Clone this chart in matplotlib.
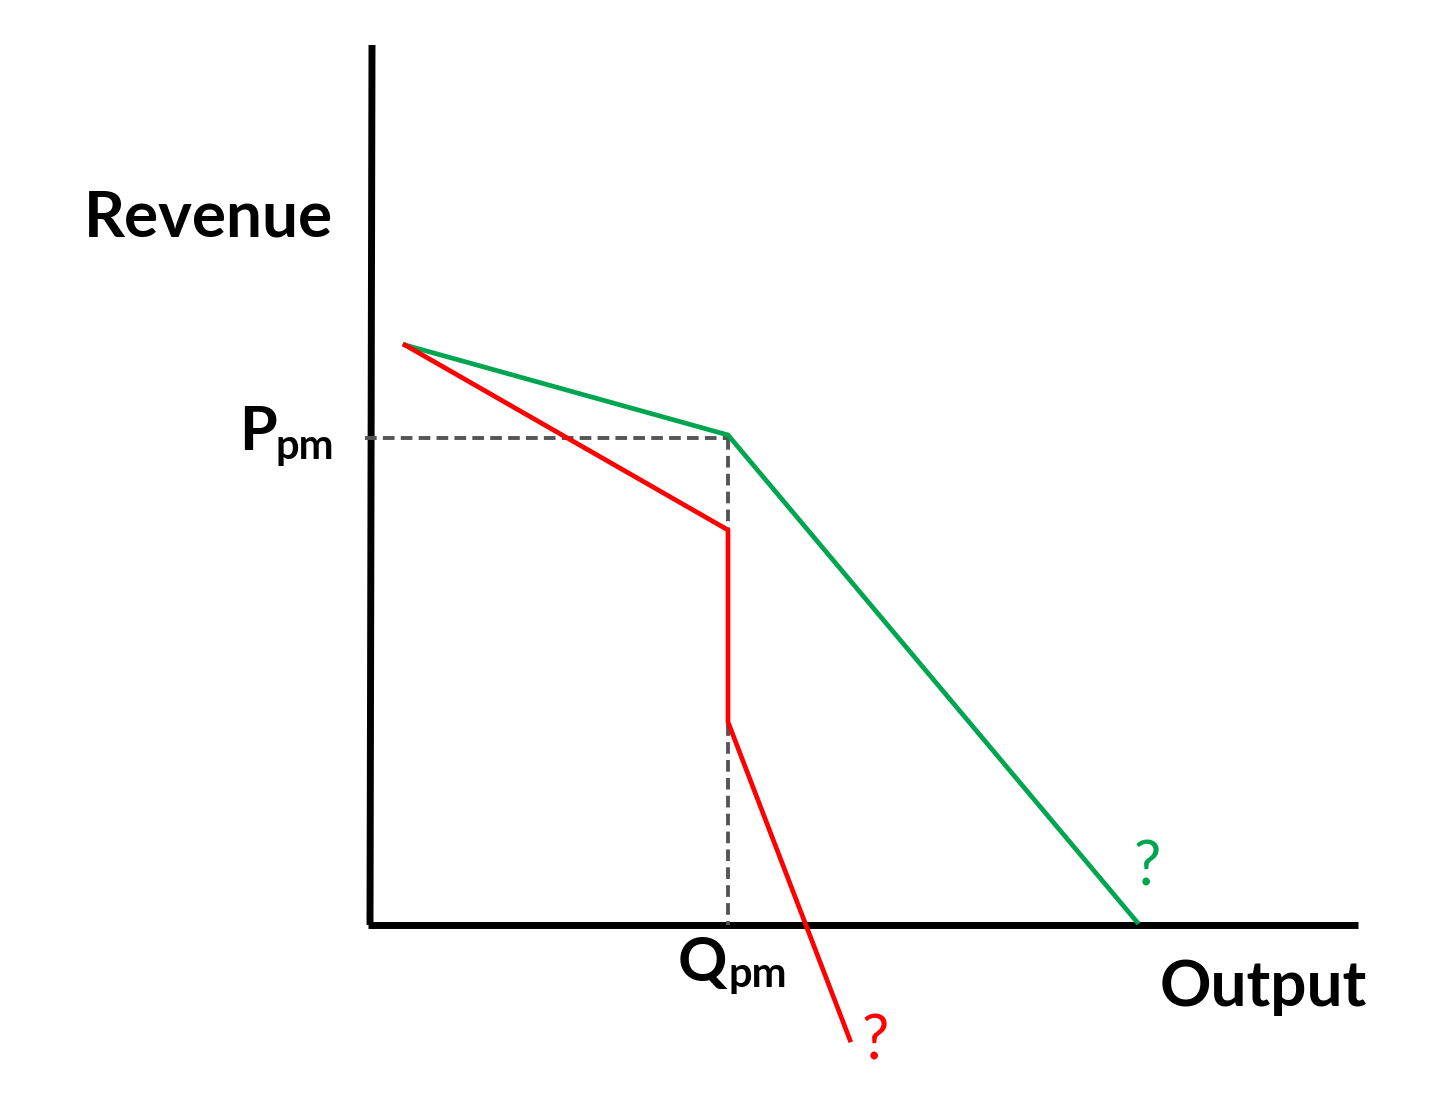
import matplotlib
matplotlib.use("Agg")
import matplotlib.pyplot as plt

# data (units: arbitrary, origin at axes corner)
green_x = [0.35, 3.58, 7.67]
green_y = [5.80, 4.90, 0.03]
red_x = [0.35, 3.58, 3.58, 4.80]
red_y = [5.80, 3.95, 2.03, -1.15]
p_pm = 4.87
q_pm = 3.58
axis_x_end = 9.88
axis_y_end = 8.80

fig = plt.figure(figsize=(14.4, 10.94), dpi=100)
ax = fig.add_axes([0, 0, 1, 1])
ax.set_xlim(-3.70, 10.70)
ax.set_ylim(-1.69, 9.25)
ax.axis("off")

font = "Lato"

# axes lines
ax.plot([0.02, 0], [axis_y_end, 0], color="black", lw=5, solid_capstyle="butt")
ax.plot([-0.02, axis_x_end], [0, 0], color="black", lw=5, solid_capstyle="butt")

# dashed guides
ax.plot([-0.05, q_pm], [p_pm, p_pm], color="#555555", lw=2.8, ls=(0, (3, 1.6)))
ax.plot([q_pm, q_pm], [p_pm, 0], color="#555555", lw=2.8, ls=(0, (3, 1.6)))

# curves
ax.plot(green_x, green_y, color="#00a550", lw=3.4, solid_joinstyle="miter")
ax.plot(red_x, red_y, color="#ff0000", lw=3.4, solid_joinstyle="miter")

# labels
ax.text(-1.62, 7.07, "Revenue", fontsize=46, fontweight="bold", family=font,
        ha="center", va="center")
ax.text(-1.12, 4.93, "P", fontsize=44, fontweight="bold", family=font,
        ha="center", va="center")
ax.text(-0.65, 4.78, "pm", fontsize=30, fontweight="bold", family=font,
        ha="center", va="center")
ax.text(3.32, -0.38, "Q", fontsize=44, fontweight="bold", family=font,
        ha="center", va="center")
ax.text(3.88, -0.50, "pm", fontsize=30, fontweight="bold", family=font,
        ha="center", va="center")
ax.text(8.93, -0.62, "Output", fontsize=46, fontweight="bold", family=font,
        ha="center", va="center")
ax.text(7.77, 0.57, "?", fontsize=44, family=font, color="#00a550",
        ha="center", va="center")
ax.text(5.05, -1.17, "?", fontsize=44, family=font, color="#ff0000",
        ha="center", va="center")

fig.savefig("out.png", dpi=100)
